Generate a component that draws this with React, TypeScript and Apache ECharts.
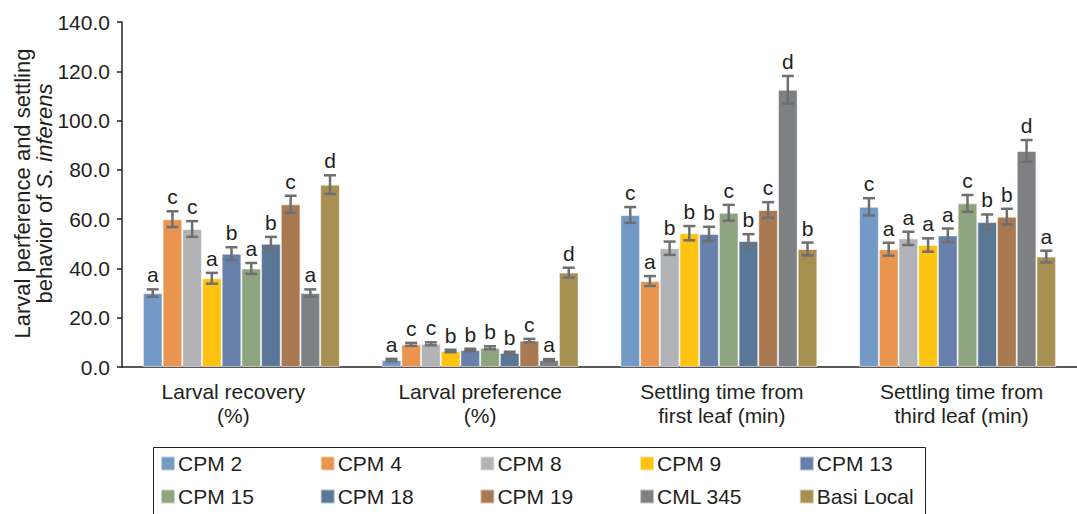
import React, { useEffect, useRef } from 'react';
import * as echarts from 'echarts';

const categories = [
  'Larval recovery\n(%)',
  'Larval preference\n(%)',
  'Settling time from\nfirst leaf (min)',
  'Settling time from\nthird leaf (min)',
];
const cultivars = ['CPM 2', 'CPM 4', 'CPM 8', 'CPM 9', 'CPM 13', 'CPM 15', 'CPM 18', 'CPM 19', 'CML 345', 'Basi Local'];
const colors = ['#7399c6', '#e9954f', '#b2b3b6', '#fec311', '#667fab', '#8ea47f', '#5b7797', '#a97a51', '#7f8084', '#a88f52'];

// values per trait (one per cultivar)
const larvalRecovery = [30, 60, 56, 36, 46, 40, 50, 66, 30, 74];
const larvalPreference = [2.8, 9.2, 9.4, 6.5, 6.9, 7.8, 5.7, 10.7, 2.8, 38.3];
const settlingFirst = [61.7, 34.9, 48.2, 54.3, 54.0, 62.6, 51.1, 63.7, 112.5, 47.9];
const settlingThird = [65.0, 47.8, 52.2, 49.5, 53.4, 66.4, 58.8, 61.0, 87.7, 44.8];

// standard errors
const errRecovery = [1.5, 3.2, 3.2, 2.2, 2.6, 2.2, 2.8, 3.5, 1.5, 3.8];
const errPreference = [0.5, 0.6, 0.6, 0.5, 0.5, 0.6, 0.5, 0.7, 0.4, 2.0];
const errFirst = [3.2, 2.0, 2.7, 2.9, 2.9, 3.2, 2.8, 3.2, 5.6, 2.6];
const errThird = [3.5, 2.6, 2.7, 2.7, 2.8, 3.4, 3.1, 3.2, 4.4, 2.4];

// significance letters
const letRecovery = ['a', 'c', 'c', 'a', 'b', 'a', 'b', 'c', 'a', 'd'];
const letPreference = ['a', 'c', 'c', 'b', 'b', 'b', 'b', 'c', 'a', 'd'];
const letFirst = ['c', 'a', 'b', 'b', 'b', 'c', 'b', 'c', 'd', 'b'];
const letThird = ['c', 'a', 'a', 'a', 'a', 'c', 'b', 'b', 'd', 'a'];

const yTicks = { min: 0, max: 140, interval: 20 };

const TEXT = '#231f20';
const FONT = "'Liberation Sans', Arial, Helvetica, sans-serif";
const CAT_GAP = 0.175;
// small horizontal nudges of category labels (left, right padding)
const labelPads = [[0, 16], [0, 0], [6, 0], [8, 0]];

export default function App() {
  const ref = useRef<HTMLDivElement>(null);

  useEffect(() => {
    if (!ref.current) return;
    const chart = echarts.init(ref.current, undefined, { renderer: 'svg' });

    const groups = [larvalRecovery, larvalPreference, settlingFirst, settlingThird];
    const errs = [errRecovery, errPreference, errFirst, errThird];
    const lets = [letRecovery, letPreference, letFirst, letThird];

    const barSeries = cultivars.map((name, s) => ({
      type: 'bar',
      name,
      data: groups.map((g) => g[s]),
      barGap: '0%',
      barCategoryGap: CAT_GAP * 100 + '%',
      itemStyle: { color: colors[s], borderColor: 'rgba(255,255,255,0.55)', borderWidth: 1 },
      emphasis: { disabled: true },
    }));

    const errData: any[] = [];
    const errLetters: string[] = [];
    groups.forEach((g, c) => {
      g.forEach((v, s) => {
        errData.push([c, s, v, errs[c][s]]);
        errLetters.push(lets[c][s]);
      });
    });

    const errSeries = {
      type: 'custom',
      name: 'errors',
      data: errData,
      encode: { x: 0, y: 2 },
      z: 10,
      renderItem: (params: any, api: any) => {
        const c = api.value(0);
        const s = api.value(1);
        const v = api.value(2);
        const e = api.value(3);
        const base = api.coord([c, v]);
        const band = api.size([1, 0])[0];
        const bw = (band * (1 - CAT_GAP)) / 10;
        const x = base[0] + (s - 4.5) * bw;
        const yT = api.coord([c, v + e])[1];
        const yB = api.coord([c, v - e])[1];
        const st = { stroke: '#6e6f71', lineWidth: 2.5 };
        const hw = 6;
        return {
          type: 'group',
          children: [
            { type: 'line', shape: { x1: x, y1: yT, x2: x, y2: yB }, style: st },
            { type: 'line', shape: { x1: x - hw, y1: yT, x2: x + hw, y2: yT }, style: st },
            { type: 'line', shape: { x1: x - hw, y1: yB, x2: x + hw, y2: yB }, style: st },
            {
              type: 'text',
              x,
              y: yT - 4,
              style: {
                text: errLetters[params.dataIndex],
                fill: TEXT,
                font: `21px ${FONT}`,
                align: 'center',
                verticalAlign: 'bottom',
              },
            },
          ],
        };
      },
    };

    const legends = cultivars.map((name, i) => ({
      left: 160 + (i % 5) * 159.7,
      top: i < 5 ? 453 : 486,
      padding: 0,
      itemWidth: 14,
      itemHeight: 14,
      itemGap: 0,
      icon: 'rect',
      selectedMode: false,
      data: [name],
      textStyle: { fontSize: 21, color: TEXT, fontFamily: FONT, padding: [0, 0, 0, -2] },
    }));

    chart.setOption({
      animation: false,
      textStyle: { fontFamily: FONT },
      grid: { left: 122, right: 0, top: 22, bottom: 147, containLabel: false, outerBoundsMode: 'none' },
      legend: legends,
      graphic: [
        {
          type: 'rect',
          shape: { x: 153.5, y: 447.5, width: 772, height: 90 },
          style: { fill: 'none', stroke: TEXT, lineWidth: 1 },
        },
        {
          type: 'text',
          x: 33.5,
          y: 193.5,
          rotation: Math.PI / 2,
          style: {
            text: '{a|Larval perference and settling}\n{a|behavior of }{i|S. inferens}',
            align: 'center',
            verticalAlign: 'middle',
            rich: {
              a: { fontSize: 22, lineHeight: 22, fill: TEXT, fontFamily: FONT, align: 'center' },
              i: { fontSize: 22, lineHeight: 22, fill: TEXT, fontFamily: FONT, fontStyle: 'italic', align: 'center' },
            },
          },
        },
      ],
      xAxis: {
        type: 'category',
        data: categories.map((c, i) => ({
          value: c,
          textStyle: { padding: [0, labelPads[i][1], 0, labelPads[i][0]] },
        })),
        axisLine: { lineStyle: { color: TEXT, width: 1.5 } },
        axisTick: { length: 10, lineStyle: { color: TEXT, width: 1.5 } },
        axisLabel: { fontSize: 21, color: TEXT, lineHeight: 24, margin: 12, interval: 0, fontFamily: FONT },
      },
      yAxis: {
        type: 'value',
        min: yTicks.min,
        max: yTicks.max,
        interval: yTicks.interval,
        axisLine: { show: true, lineStyle: { color: TEXT, width: 1.5 } },
        axisTick: { show: true, length: 5, lineStyle: { color: TEXT, width: 1.5 } },
        splitLine: { show: false },
        axisLabel: {
          fontSize: 21,
          color: TEXT,
          margin: 12,
          fontFamily: FONT,
          formatter: (v: number) => v.toFixed(1),
        },
      },
      series: [...barSeries, errSeries],
    } as any);

    return () => chart.dispose();
  }, []);

  return (
    <div
      ref={ref}
      style={{ position: 'absolute', left: 0, top: 0, width: 1077, height: 514 }}
    />
  );
}
